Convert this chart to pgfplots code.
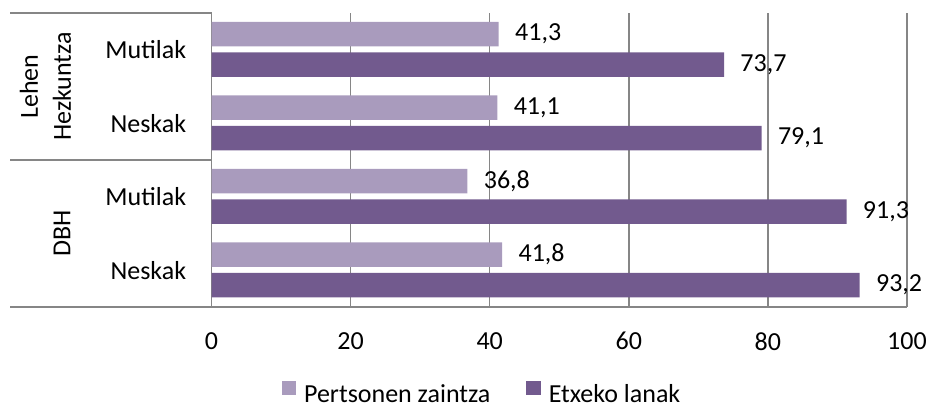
\documentclass[border=0pt]{standalone}
\usepackage{fontspec}
\setmainfont{Carlito}
\usepackage{pgfplots}
\pgfplotsset{compat=1.18}
\definecolor{lightp}{HTML}{A99BBD}
\definecolor{darkp}{HTML}{725A8E}
\definecolor{gridg}{HTML}{868686}
\begin{document}
\fontsize{13bp}{16.5bp}\selectfont
\begin{tikzpicture}
\path[use as bounding box] (0,0) rectangle (465.5bp,203.5bp);
\begin{axis}[
  at={(105.75bp,50bp)}, anchor=south west,
  scale only axis, width=347.75bp, height=147bp,
  xbar, bar width=12.25bp,
  xmin=0, xmax=100, ymin=-0.5, ymax=3.5,
  xtick={0,20,...,100}, ytick={0,1,2,3},
  yticklabels={Neskak,Mutilak,Neskak,Mutilak},
  axis x line*=bottom, axis y line*=left,
  axis line style={gridg, line width=0.75bp},
  xmajorgrids, grid style={gridg, line width=0.75bp},
  major tick length=0pt,
  clip=false,
  xticklabel style={anchor=north, inner sep=0pt, yshift=-12.5bp},
  yticklabel style={anchor=east, inner sep=0pt, xshift=-12.5bp},
  /pgf/number format/assume math mode=true,
  nodes near coords,
  every node near coord/.append style={anchor=west, inner sep=0pt, xshift=8bp, text=black,
    /pgf/number format/.cd, use comma, fixed, fixed zerofill, precision=1},
  legend style={at={(0.3875,-0.295)}, anchor=center, draw=none, fill=none,
    legend columns=2, /tikz/every even column/.append style={column sep=18bp},
    nodes={inner sep=0pt}},
  legend image code/.code={\fill[#1] (0bp,0bp) rectangle (7.2bp,7.2bp); \path (11.2bp,0bp);},
]
\addplot[fill=lightp, draw=none, bar shift=7.875bp] coordinates {(41.8,0) (36.8,1) (41.1,2) (41.3,3)};
\addlegendentry{Pertsonen zaintza}
\addplot[fill=darkp, draw=none, bar shift=-7.375bp] coordinates {(93.2,0) (91.3,1) (79.1,2) (73.7,3)};
\addlegendentry{Etxeko lanak}
\end{axis}
\draw[gridg, line width=0.75bp] (5bp,196.9bp) -- (105.75bp,196.9bp);
\draw[gridg, line width=0.75bp] (5bp,123.5bp) -- (105.75bp,123.5bp);
\draw[gridg, line width=0.75bp] (5bp,50bp) -- (105.75bp,50bp);
\node[rotate=90, align=center, inner sep=0pt] at (22.75bp,160.25bp) {Lehen\\Hezkuntza};
\node[rotate=90, inner sep=0pt] at (31bp,86.75bp) {DBH};
\end{tikzpicture}
\end{document}
